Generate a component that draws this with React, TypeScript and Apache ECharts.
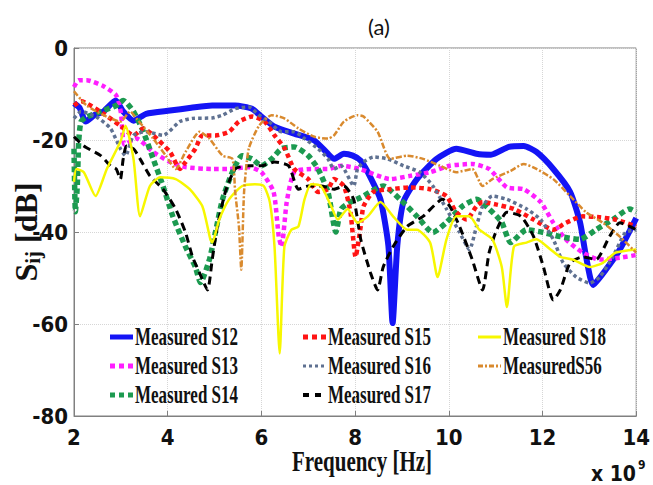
import { useEffect, useRef } from "react";
import * as echarts from "echarts";

// ---- data (frequency in GHz, value in dB) ----
const xTicks = [2, 4, 6, 8, 10, 12, 14];
const yTicks = [0, -20, -40, -60, -80];

const seriesNames = [
  "Measured S12",
  "Measured S13",
  "Measured S14",
  "Measured S15",
  "Measured S16",
  "Measured S17",
  "Measured S18",
  "MeasuredS56",
];

const s12: [number, number][] = [
  [2.0, -12], [2.12, -13], [2.25, -16], [2.45, -14.5], [2.63, -13.8], [2.89, -11.4], [3.05, -13.8],
  [3.27, -15.8], [3.54, -14.3], [4.05, -13.6], [4.5, -13], [4.95, -12.5], [5.44, -12.5], [5.8, -13.2],
  [6.0, -14.9], [6.28, -17.1], [6.7, -18.6], [7.13, -20.1], [7.42, -23], [7.55, -24.1], [7.76, -23],
  [7.95, -23.4], [8.12, -24.5], [8.27, -27], [8.54, -32.9], [8.71, -43], [8.8, -59.8], [8.9, -43],
  [9.03, -33.5], [9.32, -28.5], [9.74, -24.1], [10.16, -21.9], [10.59, -23], [10.9, -23.2],
  [11.28, -21.5], [11.6, -21.3], [11.87, -22.6], [12.23, -26.3], [12.59, -31.3], [12.8, -37.9],
  [12.93, -45.4], [13.08, -51.5], [13.35, -48.2], [13.65, -43.8], [14.0, -37],
];

const s13: [number, number][] = [
  [2.0, -8.5], [2.1, -7], [2.27, -7], [2.63, -8.3], [2.9, -10.3], [3.0, -14], [3.08, -21], [3.33, -19.7],
  [3.69, -22.6], [4.05, -24.8], [4.38, -25.9], [4.95, -26.3], [5.31, -26.3], [5.73, -25.9], [6.0, -27],
  [6.26, -31.3], [6.37, -41], [6.43, -43.2], [6.54, -33.5], [6.7, -27], [7.06, -26.3], [7.42, -26.3],
  [7.7, -25.6], [8.1, -26.3], [8.75, -28.5], [9.17, -27.8], [9.6, -27], [10.02, -25.6], [10.5, -25.2],
  [10.86, -26.3], [11.24, -30.3], [11.6, -30.7], [11.96, -33.5], [12.23, -38], [12.5, -41.6],
  [12.86, -44.5], [13.22, -46], [13.65, -45.6], [14.0, -45],
];

const s14: [number, number][] = [
  [2.0, -21.9], [2.03, -35.6], [2.07, -30], [2.1, -20.4], [2.15, -16], [2.27, -15], [2.63, -13.6],
  [2.9, -12.5], [3.05, -11.4], [3.27, -13.8], [3.48, -18.2], [3.69, -24.1], [3.9, -30], [4.11, -36.6],
  [4.38, -43.2], [4.59, -47.6], [4.7, -51], [4.89, -46], [5.02, -40], [5.17, -32.9], [5.38, -27],
  [5.59, -23.4], [5.8, -24.1], [6.0, -25.6], [6.22, -24.1], [6.43, -21.9], [6.7, -21.5], [7.0, -23.4],
  [7.21, -26.3], [7.42, -31.3], [7.59, -40], [7.7, -35], [7.9, -33.5], [8.12, -32.5], [8.6, -30],
  [8.96, -32.9], [9.32, -36.6], [9.66, -40.1], [9.95, -37.9], [10.29, -34.4], [10.59, -32.9],
  [10.86, -35], [11.13, -37.9], [11.32, -42.3], [11.66, -39.5], [12.02, -40.1], [12.38, -41],
  [12.8, -41.6], [13.14, -39.5], [13.5, -37.3], [13.86, -35], [14.0, -35.7],
];

const s15: [number, number][] = [
  [2.0, -12.5], [2.15, -11.6], [2.63, -14.3], [2.99, -16.9], [3.27, -19], [3.48, -17.5], [3.69, -19],
  [4.05, -22.6], [4.26, -26.3], [4.38, -24.8], [4.59, -21.9], [4.74, -19], [5.02, -19], [5.31, -18.2],
  [5.52, -16], [5.8, -14.9], [6.07, -16], [6.28, -19], [6.5, -21.9], [6.7, -26.3], [7.0, -28.5],
  [7.21, -31.3], [7.42, -30.7], [7.55, -28.5], [7.76, -30], [7.9, -35.7], [8.01, -45.4], [8.12, -38.8],
  [8.18, -34.4], [8.39, -31.3], [8.75, -30.7], [9.17, -30.3], [9.6, -30.7], [9.95, -32.2],
  [10.16, -35.7], [10.38, -37.3], [10.59, -34.4], [10.72, -33.5], [11.0, -34], [11.39, -35],
  [11.81, -37.3], [12.23, -39.5], [12.5, -38], [12.86, -36.6], [13.22, -36.8], [13.56, -37.3],
  [14.0, -38.8],
];

const s16: [number, number][] = [
  [2.0, -15.3], [2.15, -13.8], [2.48, -15], [2.78, -17.5], [2.99, -21.9], [3.1, -23.4], [3.27, -19],
  [3.54, -18.2], [3.9, -19], [4.26, -16], [4.53, -15.3], [4.95, -15.2], [5.17, -14.6], [5.44, -13.2],
  [5.73, -12.8], [5.95, -14.6], [6.16, -16], [6.43, -18.2], [6.7, -18.2], [6.92, -19.7], [7.21, -21.9],
  [7.42, -24.1], [7.55, -26.3], [7.7, -25.6], [7.97, -30], [8.05, -26.3], [8.18, -24.8], [8.39, -23.7],
  [8.69, -24.1], [9.03, -25.6], [9.38, -27], [9.66, -30], [9.95, -35], [10.23, -40.1], [10.44, -43.8],
  [10.59, -38.8], [10.72, -34.4], [10.93, -32.2], [11.24, -32.9], [11.66, -35], [11.96, -37.3],
  [12.23, -41.6], [12.44, -46.7], [12.72, -49.8], [13.01, -51.1], [13.22, -49.8], [13.5, -45.4],
  [13.77, -40.1], [14.0, -39.5],
];

const s17: [number, number][] = [
  [2.0, -19.3], [2.21, -21.3], [2.57, -23.4], [2.78, -25.6], [2.9, -26.3], [2.99, -28.5], [3.05, -24.1],
  [3.12, -21.3], [3.27, -21.9], [3.41, -24.1], [3.62, -27.8], [3.9, -30.7], [4.17, -35], [4.38, -40.1],
  [4.53, -45.4], [4.68, -48.9], [4.85, -52.6], [4.95, -46], [5.06, -38.8], [5.23, -31.3], [5.44, -26.3],
  [5.73, -25.6], [6.0, -25.6], [6.28, -24.8], [6.58, -25.6], [6.79, -30.7], [7.0, -30], [7.27, -30],
  [7.55, -30.7], [7.76, -30], [7.97, -32.9], [8.12, -41.6], [8.33, -48.9], [8.48, -52.6], [8.6, -47.6],
  [8.81, -43.2], [9.11, -38.8], [9.45, -36.6], [9.87, -32.9], [10.02, -34.4], [10.23, -38.8],
  [10.5, -46], [10.72, -52.6], [10.86, -44.5], [11.0, -40.1], [11.24, -35.7], [11.54, -36.6],
  [11.81, -41], [12.02, -47.6], [12.23, -54.8], [12.38, -52.6], [12.59, -46.7], [12.86, -45.4],
  [13.14, -46], [13.43, -41], [13.65, -38], [13.86, -38.8], [14.0, -39.5],
];

const s18: [number, number][] = [
  [2.0, -29.1], [2.05, -26.3], [2.21, -27], [2.46, -32.2], [2.7, -26.3], [2.99, -20.4], [3.1, -16.9],
  [3.27, -24.1], [3.41, -36.6], [3.62, -30], [3.84, -28.1], [4.17, -28.5], [4.47, -30.7], [4.74, -34.4],
  [4.91, -41.6], [4.95, -42.3], [5.1, -37.3], [5.31, -32.9], [5.59, -30], [5.86, -29.6], [6.05, -30],
  [6.18, -33.5], [6.28, -43.2], [6.39, -66.4], [6.49, -43.2], [6.64, -39.5], [6.79, -38.8],
  [6.92, -32.9], [7.06, -29.6], [7.27, -30], [7.49, -34.4], [7.63, -37.3], [7.84, -35], [8.05, -38],
  [8.27, -36.6], [8.54, -33.5], [8.81, -36.6], [9.11, -39.5], [9.32, -39.5], [9.6, -42.3],
  [9.76, -49.8], [9.95, -41.6], [10.16, -36.6], [10.44, -36.6], [10.65, -39.5], [10.93, -41.6],
  [11.13, -47.6], [11.24, -56.3], [11.39, -43.2], [11.66, -42.3], [11.87, -41.6], [12.17, -43.8],
  [12.38, -45.4], [12.65, -46], [13.01, -47.6], [13.29, -46.7], [13.56, -44.5], [14.0, -43.8],
];

const s56: [number, number][] = [
  [2.0, -9.4], [2.27, -12.5], [2.63, -14.6], [2.99, -16], [3.2, -13.8], [3.33, -15.3], [3.69, -19.7],
  [3.96, -23.4], [4.17, -26.3], [4.38, -22.6], [4.68, -18.2], [4.89, -19.7], [5.17, -23.4],
  [5.38, -24.1], [5.44, -31.3], [5.52, -38.8], [5.57, -48.2], [5.63, -31.3], [5.73, -21.9],
  [5.95, -16.9], [6.22, -14.6], [6.49, -15.3], [6.79, -17.5], [7.13, -19.3], [7.42, -19.7],
  [7.55, -19], [7.76, -16], [8.05, -14.6], [8.18, -14.9], [8.48, -18.2], [8.75, -24.1], [9.11, -23.4],
  [9.45, -24.1], [9.81, -25.6], [10.16, -27], [10.5, -26.3], [10.72, -30], [10.93, -28.5],
  [11.32, -26.7], [11.6, -25.2], [11.87, -26.3], [12.23, -28.5], [12.59, -32.2], [12.93, -35.7],
  [13.29, -38], [13.65, -41], [14.0, -44.5],
];

const seriesData = [s12, s13, s14, s15, s16, s17, s18, s56];

// ---- styles ----
const seriesStyles: { color: string; width: number; type: any; legendWidth: number; legendDash: number[] | null }[] = [
  { color: "#1414f5", width: 6, type: "solid", legendWidth: 5, legendDash: null },
  { color: "#ff1eff", width: 4.5, type: [4.5, 3.5], legendWidth: 5, legendDash: [5, 4] },
  { color: "#1c9a50", width: 5.5, type: [5.5, 3.5], legendWidth: 5, legendDash: [5, 4] },
  { color: "#ff1414", width: 4.5, type: [4.5, 3.5], legendWidth: 5, legendDash: [5, 4] },
  { color: "#5f7191", width: 3.5, type: [3.5, 3], legendWidth: 3, legendDash: [3, 3] },
  { color: "#000000", width: 3, type: [8, 5], legendWidth: 4, legendDash: [6, 6] },
  { color: "#f7f700", width: 2.5, type: "solid", legendWidth: 3, legendDash: null },
  { color: "#d98a2e", width: 2.5, type: [6, 2, 2, 2], legendWidth: 3, legendDash: [5, 2, 2, 2] },
];

// legend layout: column x of icon start, row y centres (column-major order)
const legendCols = [110, 303, 478];
const legendRows = [337, 366, 395];

const NARROW = "'Liberation Sans Narrow', 'DejaVu Sans Condensed', 'Liberation Sans', sans-serif";
const SERIF = "'Liberation Serif', 'DejaVu Serif', serif";

export default function App() {
  const ref = useRef<HTMLDivElement>(null);

  useEffect(() => {
    if (!ref.current) return;
    const chart = echarts.init(ref.current, undefined, { renderer: "svg" });

    const legendGraphics: any[] = [];
    seriesNames.forEach((name, i) => {
      const col = Math.floor(i / 3);
      const row = i % 3;
      const x0 = legendCols[col];
      const y0 = legendRows[row];
      const st = seriesStyles[i];
      legendGraphics.push({
        type: "line",
        shape: { x1: x0, y1: y0, x2: x0 + 23, y2: y0 },
        style: {
          stroke: st.color,
          lineWidth: st.legendWidth,
          lineDash: st.legendDash || undefined,
        },
        silent: true,
      });
      legendGraphics.push({
        type: "text",
        x: x0 + 25,
        y: y0,
        scaleX: 0.68,
        style: {
          text: name,
          fontFamily: SERIF,
          fontWeight: "bold",
          fontSize: 25,
          fill: "#111",
          align: "left",
          verticalAlign: "middle",
        },
        silent: true,
      });
    });

    chart.setOption({
      animation: false,
      backgroundColor: "#ffffff",
      grid: {
        left: 74,
        right: 8,
        top: 48,
        bottom: 69,
        show: true,
        borderColor: "#808080",
        borderWidth: 1,
        backgroundColor: "transparent",
      },
      xAxis: {
        type: "value",
        min: xTicks[0],
        max: xTicks[xTicks.length - 1],
        interval: 2,
        axisLine: { show: true, onZero: false, lineStyle: { color: "#808080", width: 1 } },
        axisTick: { show: true, inside: true, length: 5, lineStyle: { color: "#808080" } },
        axisLabel: {
          color: "#111",
          fontSize: 22,
          fontWeight: "bold",
          fontFamily: NARROW,
          margin: 10,
        },
        splitLine: { show: true, lineStyle: { color: "#d6d6d6", type: "dotted", width: 1 } },
      },
      yAxis: {
        type: "value",
        min: yTicks[yTicks.length - 1],
        max: yTicks[0],
        interval: 20,
        axisLine: { show: true, onZero: false, lineStyle: { color: "#808080", width: 1 } },
        axisTick: { show: true, inside: true, length: 5, lineStyle: { color: "#808080" } },
        axisLabel: {
          color: "#111",
          fontSize: 22,
          fontWeight: "bold",
          fontFamily: NARROW,
          margin: 6,
        },
        splitLine: { show: true, lineStyle: { color: "#d6d6d6", type: "dotted", width: 1 } },
      },
      graphic: [
        {
          type: "text",
          x: 379,
          y: 26,
          style: {
            text: "(a)",
            fontSize: 22,
            fontFamily: "Lato, 'Open Sans', sans-serif",
            fill: "#111",
            align: "center",
            verticalAlign: "middle",
          },
        },
        {
          type: "text",
          x: 362,
          y: 461,
          scaleX: 0.7,
          style: {
            text: "Frequency [Hz]",
            fontSize: 30,
            fontWeight: "bold",
            fontFamily: SERIF,
            fill: "#111",
            align: "center",
            verticalAlign: "middle",
          },
        },
        {
          type: "text",
          x: 26,
          y: 232,
          rotation: Math.PI / 2,
          style: {
            text: "{s|S}{sub|ij}{s| [dB]}",
            align: "center",
            verticalAlign: "middle",
            rich: {
              s: { fontFamily: SERIF, fontWeight: "bold", fontSize: 32, fill: "#111", lineHeight: 34 },
              sub: {
                fontFamily: SERIF,
                fontWeight: "bold",
                fontSize: 21,
                fill: "#111",
                lineHeight: 12,
                verticalAlign: "bottom",
              },
            },
          },
        },
        {
          type: "text",
          x: 636,
          y: 474,
          style: {
            text: "x 10",
            fontSize: 21,
            fontWeight: "bold",
            fontFamily: NARROW,
            fill: "#111",
            align: "right",
            verticalAlign: "middle",
          },
        },
        {
          type: "text",
          x: 638,
          y: 465,
          style: {
            text: "9",
            fontSize: 12,
            fontWeight: "bold",
            fontFamily: NARROW,
            fill: "#111",
            align: "left",
            verticalAlign: "middle",
          },
        },
        ...legendGraphics,
      ],
      series: seriesData.map((d, i) => ({
        name: seriesNames[i],
        type: "line",
        data: d,
        symbol: "none",
        showSymbol: false,
        smooth: 0.2,
        color: seriesStyles[i].color,
        lineStyle: {
          color: seriesStyles[i].color,
          width: seriesStyles[i].width,
          type: seriesStyles[i].type,
        },
        emphasis: { disabled: true },
        z: 2,
      })),
    });

    return () => {
      chart.dispose();
    };
  }, []);

  return (
    <div
      ref={ref}
      style={{ position: "fixed", left: 0, top: 0, width: 653, height: 485, background: "#fff" }}
    />
  );
}
